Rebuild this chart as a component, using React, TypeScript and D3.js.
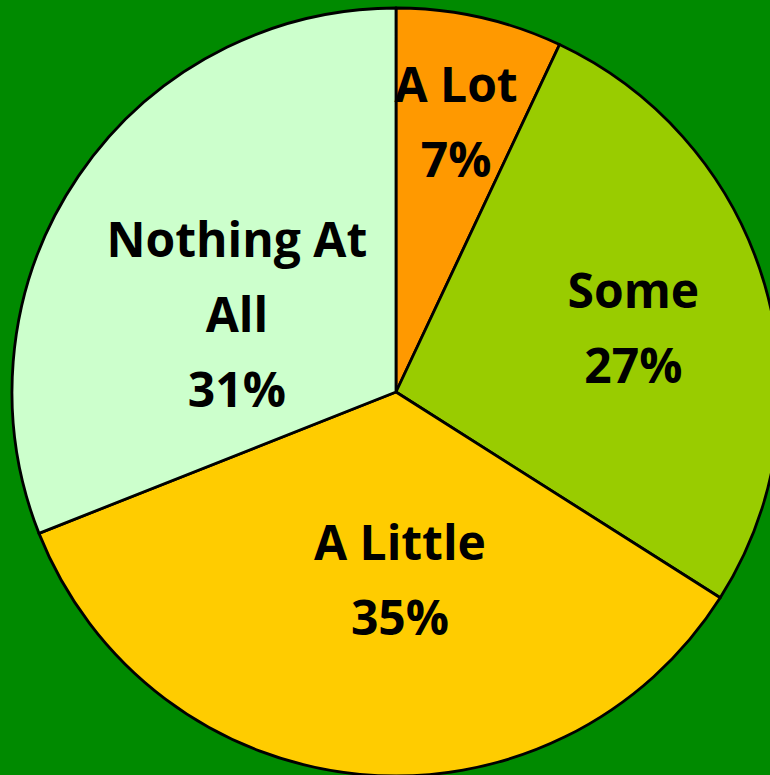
import React from "react";
import * as d3 from "d3";

const categories = ["A Lot", "Some", "A Little", "Nothing At All"];
const values = [7, 27, 35, 31];
const labelLines = [["A Lot", "7%"], ["Some", "27%"], ["A Little", "35%"], ["Nothing At", "All", "31%"]];
const colors = ["#FF9900", "#99CC00", "#FFCC00", "#CCFFCC"];
// label placement: radius fraction and angle offset (degrees) relative to slice middle
const labelLayout = [
  { rf: 0.675, da: 0.8 },
  { rf: 0.63, da: 5 },
  { rf: 0.534, da: -6.5 },
  { rf: 0.443, da: -13.5 },
];

const W = 770;
const H = 775;
const cx = 396;
const cy = 392;
const R = 384;
const lineGap = 75;

export default function App() {
  const pie = d3.pie<number>().sort(null).value((d) => d)(values);
  const arc = d3.arc<d3.PieArcDatum<number>>().innerRadius(0).outerRadius(R);
  return (
    <svg
      width={W}
      height={H}
      style={{ position: "absolute", left: 0, top: 0, display: "block" }}
    >
      <rect x={0} y={0} width={W} height={H} fill="#008A00" />
      <g transform={`translate(${cx},${cy})`}>
        {pie.map((p, i) => (
          <path key={categories[i]} d={arc(p) || ""} fill={colors[i]} stroke="#000" strokeWidth={2.8} strokeLinejoin="round" />
        ))}
        {pie.map((p, i) => {
          const mid = (p.startAngle + p.endAngle) / 2 + (labelLayout[i].da * Math.PI) / 180;
          const r = labelLayout[i].rf * R;
          const x = Math.sin(mid) * r;
          const y = -Math.cos(mid) * r;
          const lines = labelLines[i];
          return (
            <text
              key={"l" + i}
              x={x}
              textAnchor="middle"
              fontFamily="'Open Sans', sans-serif"
              fontWeight="bold"
              fontSize={48}
              fill="#000"
            >
              {lines.map((t, j) => (
                <tspan key={j} x={x} y={y + (j - (lines.length - 1) / 2) * lineGap}>
                  {t}
                </tspan>
              ))}
            </text>
          );
        })}
      </g>
    </svg>
  );
}
